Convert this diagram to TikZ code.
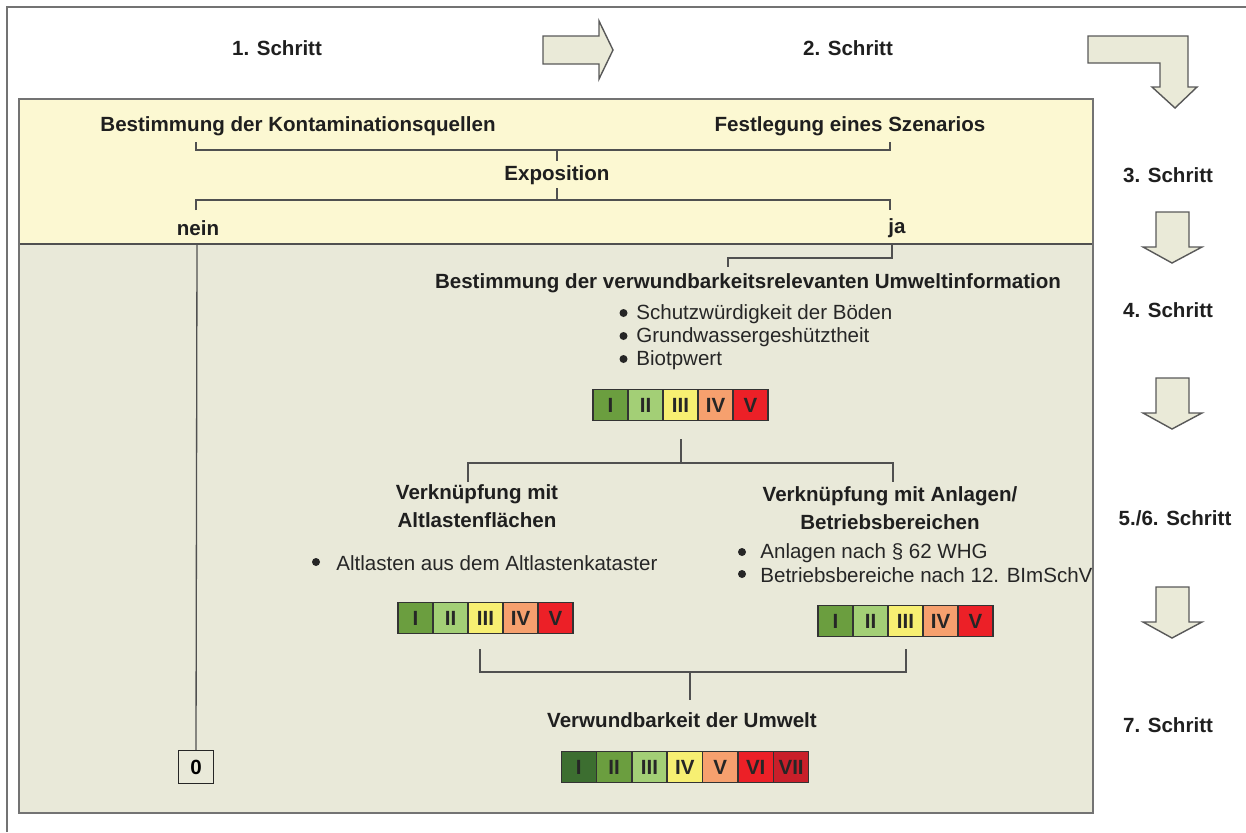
\documentclass[tikz,border=0pt]{standalone}
\usepackage{fontspec}
\setmainfont{Liberation Sans}
\definecolor{band}{HTML}{FCF8D2}
\definecolor{panel}{HTML}{E9E9D9}
\definecolor{arrowfill}{HTML}{EAEAD8}
\definecolor{lineg}{HTML}{505050}
\definecolor{cA}{HTML}{3C6E30}
\definecolor{cB}{HTML}{6B9E3F}
\definecolor{cC}{HTML}{A3CF76}
\definecolor{cD}{HTML}{F7EF72}
\definecolor{cE}{HTML}{F6A06E}
\definecolor{cF}{HTML}{EC2027}
\definecolor{cG}{HTML}{C91F2A}
\begin{document}
\begin{tikzpicture}[x=0.02cm,y=-0.02cm,
  lbl/.style={font=\fontsize{11.7}{14}\selectfont\bfseries,inner sep=0pt,text=black!88},
  txt/.style={font=\fontsize{11.7}{14}\selectfont,inner sep=0pt,text=black!85,anchor=west},
  dot/.style={fill=black!85},
  brk/.style={draw=lineg,line width=0.75pt},
  cell/.style={draw=black!80,line width=0.7pt,minimum width=0.7cm,minimum height=0.62cm,
    inner sep=0pt,font=\fontsize{11.7}{14}\selectfont\bfseries,text=black!85},
  bigarrow/.style={fill=arrowfill,draw=black!65,line width=0.8pt,line join=miter},
  panelbox/.style={draw=black!55,line width=1.2pt}]
\useasboundingbox (0,0) rectangle (1246,832);

% outer frame (left and top edges)
\draw[black!55,line width=1pt] (7,832) -- (7,7) -- (1246,7);

% main panel: yellow band above, beige area below
\fill[band] (19,99) rectangle (1093,244);
\fill[panel] (19,244) rectangle (1093,813);
\draw[lineg,line width=1.1pt] (19,244) -- (1093,244);
\draw[panelbox] (19,99) rectangle (1093,813);

% step labels
\node[lbl] (s1) at (277,48) {1. Schritt};
\node[lbl] (s2) at (848,48) {2. Schritt};
\node[lbl] (s3) at (1168,175) {3. Schritt};
\node[lbl] (s4) at (1168,310) {4. Schritt};
\node[lbl] (s56) at (1175,518) {5./6. Schritt};
\node[lbl] (s7) at (1168,725) {7. Schritt};

% block arrows between the steps
\draw[bigarrow] (543,36) -- (599,36) -- (599,21) -- (613,50) -- (599,79) -- (599,64) -- (543,64) -- cycle;
\draw[bigarrow] (1088,36) -- (1188,36) -- (1188,87) -- (1197,87) -- (1175,108) -- (1152,87)
  -- (1160,87) -- (1160,63) -- (1088,63) -- cycle;
\foreach \t in {212,378,587}{
  \draw[bigarrow] (1156,\t) -- (1189,\t) -- (1189,\t+35) -- (1202,\t+35) -- (1172,\t+51)
    -- (1143,\t+35) -- (1156,\t+35) -- cycle;
}

% step 1 and 2: sources, scenario, exposure
\node[lbl] (kq) at (298,126) {Bestimmung der Kontaminationsquellen};
\node[lbl] (sz) at (850,126) {Festlegung eines Szenarios};
\node[lbl] (ex) at (557,175) {Exposition};
\node[lbl] (nein) at (198,228) {nein};
\node[lbl] (ja) at (897,228) {ja};

\coordinate (b1l) at (196,150);
\coordinate (b1r) at (890,150);
\draw[brk] (b1l |- 0,142) -- (b1l) -- (b1r) -- (b1r |- 0,142);
\draw[brk] (ex.north |- b1l) -- (ex.north |- 0,161);

\coordinate (b2l) at (196,200);
\coordinate (b2r) at (890,200);
\draw[brk] (ex.south |- 0,188) -- (ex.south |- b2l);
\draw[brk] (b2l |- 0,210) -- (b2l) -- (b2r) -- (b2r |- 0,210);

% "nein" branch ends in class 0
\node[draw=black!85,line width=0.8pt,minimum width=0.7cm,minimum height=0.66cm,inner sep=0pt,
  font=\fontsize{11.7}{14}\selectfont\bfseries] (zero) at (196,767) {0};
\draw[brk] (197,244) -- (zero.north);

% "ja" branch: vulnerability information
\node[lbl] (vi) at (748,283) {Bestimmung der verwundbarkeitsrelevanten Umweltinformation};
\coordinate (j1) at (892,258);
\coordinate (j2) at (728,258);
\draw[brk] (j1 |- 0,244) -- (j1) -- (j2) -- (j2 |- 0,267);

\node[txt] (u1) at (636,314) {Schutzwürdigkeit der Böden};
\node[txt] (u2) at (636,337) {Grundwassergeshütztheit};
\node[txt] (u3) at (636,360) {Biotpwert};
\foreach \n in {u1,u2,u3} \fill[dot] ([xshift=-0.25cm,yshift=0.02cm]\n.west) circle (0.08cm);

\foreach \r/\c [count=\i] in {I/cB,II/cC,III/cD,IV/cE,V/cF}
  \node[cell,fill=\c] (a\i) at ({593+35*\i-17.5},405) {\r};

% split into contaminated sites and facilities
\coordinate (m0) at (681,463);
\coordinate (ml) at (468,463);
\coordinate (mr) at (893,463);
\draw[brk] (a3.south -| m0) ++(0,18) -- (m0);
\draw[brk] (ml |- 0,482) -- (ml) -- (mr) -- (mr |- 0,482);

\node[lbl,align=center] (vl) at (477,506) {Verknüpfung mit\\[1.6pt]Altlastenflächen};
\node[lbl,align=center] (vr) at (890,508) {Verknüpfung mit Anlagen/\\[1.6pt]Betriebsbereichen};

\node[txt] (l1) at (336,563) {Altlasten aus dem Altlastenkataster};
\node[txt] (r1) at (760,553) {Anlagen nach § 62 WHG};
\node[txt] (r2) at (760,575) {Betriebsbereiche nach 12. BImSchV};
\fill[dot] ([xshift=-0.4cm,yshift=0.02cm]l1.west) circle (0.08cm);
\foreach \n in {r1,r2} \fill[dot] ([xshift=-0.36cm,yshift=0.02cm]\n.west) circle (0.08cm);

\foreach \r/\c [count=\i] in {I/cB,II/cC,III/cD,IV/cE,V/cF}
  \node[cell,fill=\c] (b\i) at ({398+35*\i-17.5},618) {\r};
\foreach \r/\c [count=\i] in {I/cB,II/cC,III/cD,IV/cE,V/cF}
  \node[cell,fill=\c] (c\i) at ({818+35*\i-17.5},621) {\r};

% merge into overall vulnerability
\coordinate (nl) at (480,672);
\coordinate (nr) at (906,672);
\coordinate (n0) at (690,672);
\draw[brk] (nl |- 0,649) -- (nl) -- (nr) -- (nr |- 0,649);
\draw[brk] (n0) -- (690,700);

\node[lbl] (vu) at (682,720) {Verwundbarkeit der Umwelt};
\foreach \r/\c [count=\i] in {I/cA,II/cB,III/cC,IV/cD,V/cE,VI/cF,VII/cG}
  \node[cell,fill=\c] (d\i) at ({561+35.4*\i-17.7},767) {\r};
\end{tikzpicture}
\end{document}
